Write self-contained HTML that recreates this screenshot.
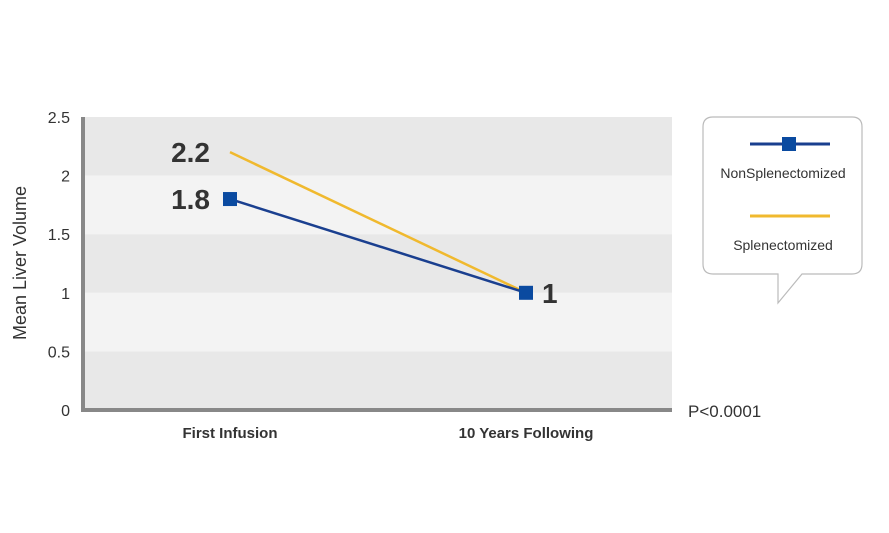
<!DOCTYPE html>
<html><head><meta charset="utf-8"><style>
body{margin:0;background:#fff;width:889px;height:528px;overflow:hidden}
text{font-family:"Liberation Sans",sans-serif}
</style></head><body>
<svg id="chart" width="889" height="528">
<g id="bands"></g>
<g id="axes"></g>
<g id="series"></g>
<text x="26" y="263" transform="rotate(-90 26 263)" text-anchor="middle" font-size="18" fill="#333">Mean Liver Volume</text>
<text x="688" y="417" font-size="17" fill="#333">P&lt;0.0001</text>
<g>
<path d="M713,117 H852 Q862,117 862,127 V264 Q862,274 852,274 H802 L778,303 L778,274 H713 Q703,274 703,264 V127 Q703,117 713,117 Z" fill="#fff" stroke="#bbb" stroke-width="1.2"/>
<line x1="750" y1="144" x2="830" y2="144" stroke="#1a3f8f" stroke-width="3"/>
<rect x="782" y="137" width="14" height="14" fill="#0a4aa0"/>
<text x="783" y="178" text-anchor="middle" font-size="14" fill="#333">NonSplenectomized</text>
<line x1="750" y1="216" x2="830" y2="216" stroke="#f0b92e" stroke-width="3"/>
<text x="783" y="250" text-anchor="middle" font-size="14" fill="#333">Splenectomized</text>
</g>
</svg>
<script>
const categories=["First Infusion","10 Years Following"];
const nonSplen=[1.8,1.0];
const splen=[2.2,1.0];
const yTicks=[0,0.5,1,1.5,2,2.5];
const NS="http://www.w3.org/2000/svg";
const L=83,R=672,T=117,B=410,yMax=2.5;
const catX=[230,526];
function x(i){return catX[i];}
function y(v){return B-(v/yMax)*(B-T);}
function mk(tag,attrs,parent){const e=document.createElementNS(NS,tag);for(const k in attrs)e.setAttribute(k,attrs[k]);parent.appendChild(e);return e;}
const bands=document.getElementById('bands'),axes=document.getElementById('axes'),ser=document.getElementById('series');
for(let i=0;i<yTicks.length-1;i++){
 const r=mk('rect',{x:L,y:y(yTicks[i+1]),width:R-L,height:y(yTicks[i])-y(yTicks[i+1]),fill:i%2===0?'#e8e8e8':'#f3f3f3'},bands);
 
 
}
yTicks.forEach(v=>{const t=mk('text',{x:70,y:y(v)+6,'text-anchor':'end','font-size':16,fill:'#333'},axes);t.textContent=v;
 
 });
categories.forEach((c,i)=>{const t=mk('text',{x:x(i),y:438,'text-anchor':'middle','font-size':15,'font-weight':'bold',fill:'#333'},axes);t.textContent=c;
 
 });
const ya=mk('line',{x1:L,y1:T,x2:L,y2:B+2,stroke:'#888',"stroke-width":4},axes);


const xa=mk('line',{x1:L-2,y1:B,x2:R,y2:B,stroke:'#888',"stroke-width":4},axes);


const sl=mk('polyline',{points:splen.map((v,i)=>x(i)+','+y(v)).join(' '),fill:'none',stroke:'#f0b92e','stroke-width':2.5},ser);


const nl=mk('polyline',{points:nonSplen.map((v,i)=>x(i)+','+y(v)).join(' '),fill:'none',stroke:'#1a3f8f','stroke-width':2.5},ser);


nonSplen.forEach((v,i)=>{const r=mk('rect',{x:x(i)-7,y:y(v)-7,width:14,height:14,fill:'#0a4aa0'},ser);
 
 });
const l1=mk('text',{x:x(0)-20,y:y(splen[0])+10,'text-anchor':'end','font-size':28,'font-weight':'bold',fill:'#333'},ser);l1.textContent=splen[0];


const l2=mk('text',{x:x(0)-20,y:y(nonSplen[0])+10,'text-anchor':'end','font-size':28,'font-weight':'bold',fill:'#333'},ser);l2.textContent=nonSplen[0];


const l3=mk('text',{x:x(1)+16,y:y(nonSplen[1])+10,'font-size':28,'font-weight':'bold',fill:'#333'},ser);l3.textContent=nonSplen[1];


</script>
</body></html>
